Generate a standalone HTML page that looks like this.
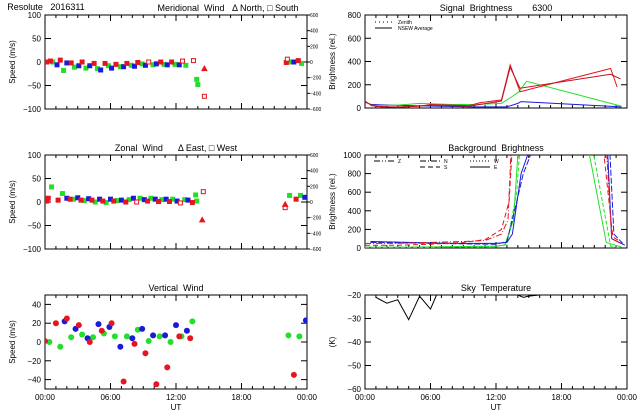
<!DOCTYPE html>
<html><head><meta charset="utf-8"><style>
body{margin:0;background:#fff}
svg{display:block;font-family:"Liberation Sans",sans-serif}
text{fill:#000;white-space:pre}
</style></head><body>
<svg id="c" width="640" height="420" viewBox="0 0 640 420"></svg>
<script>
// ---- data ----
const merRedT=[0.15,0.5,1.4,2.4,3.4,4.5,5.5,6.5,7.5,8.5,9.5,10.6,11.6,12.6,13.6,22.1,22.2,23.2];
const merRedV=[0,2,4,-2,0,-3,-3,-5,-3,-1,0,0,0,2,3,-1,6,3];
const merRedOpen=[0,0,0,0,0,0,0,0,0,0,1,0,0,1,1,0,1,0];
const merBlueT=[1.1,2.0,3.1,4.1,5.1,6.1,7.2,8.2,9.2,10.2,11.2,12.3,22.8];
const merBlueV=[-6,-2,-8,-8,-17,-13,-10,-9,-7,-4,-6,-6,0];
const merGreenT=[0.7,1.7,2.7,3.75,4.8,5.8,6.9,7.9,8.9,9.9,10.9,11.9,12.9,13.9,14.0,22.4,23.5];
const merGreenV=[0,-18,-11,-13,-14,-8,-10,-7,-4,-6,-5,-5,-7,-37,-48,0,-3];
const merExtraT=[14.6,14.6];const merExtraV=[-14,-73];
const zonRedT=[0.15,0.3,1.2,2.3,3.3,4.3,5.3,6.3,7.4,8.4,9.4,10.4,11.4,12.4,13.5,14.5,22.0,23.0];
const zonRedV=[2,8,4,6,4,4,2,2,0,0,2,1,1,-2,-1,22,-12,6];
const zonRedOpen=[0,0,0,0,0,0,0,0,0,1,0,0,0,1,0,1,1,0];
const zonBlueT=[2.0,3.0,4.0,5.0,6.0,7.0,8.1,9.1,10.1,11.1,12.1,13.1,23.8];
const zonBlueV=[8,9,7,6,6,4,8,5,6,6,2,4,10];
const zonGreenT=[0.6,1.6,2.6,3.6,4.6,5.6,6.6,7.7,8.7,9.7,10.7,11.7,12.8,13.8,13.9,22.4,23.4];
const zonGreenV=[32,18,6,3,0,-1,3,5,8,8,5,6,5,15,2,14,14];
const zonTriT=[14.4,22.0];const zonTriV=[-38,-5];
const verRedT=[0.0,1.0,2.0,3.1,4.1,5.2,6.1,7.2,8.2,9.2,10.2,11.2,12.3,13.3,22.8];
const verRedV=[1,20,25,18,0,12,20,-42,-2,-12,-45,-27,6,4,-35];
const verBlueT=[1.8,2.8,3.9,4.9,5.9,6.9,8.0,8.9,9.9,11.0,12.0,13.0,23.9];
const verBlueV=[22,14,4,19,16,-5,4,14,7,7,18,12,23];
const verGreenT=[0.4,1.4,2.4,3.4,4.4,5.4,6.4,7.5,8.5,9.5,10.5,11.5,12.5,13.5,22.3,23.3];
const verGreenV=[0,-5,5,8,5,9,6,6,13,1,6,0,6,22,7,6];
const sigRed1T=[0,0.6,1.5,3,5,6,8,9.5,10.5,12.5,13.3,14.2,22.5,23.1];
const sigRed1V=[60,20,10,10,15,30,25,20,45,70,370,140,340,180];
const sigRed2T=[0,1,3,6,9.5,12.5,13.3,14.2,22.5,23.4];
const sigRed2V=[50,15,5,25,15,60,350,170,290,250];
const sigGreenT=[0.5,3,5,8,10,12.5,13.5,14.1,14.8,22.5,23.5];
const sigGreenV=[20,25,40,30,30,40,100,140,230,40,15];
const sigBlueT=[0.5,4,7,10,13,14,14.3,23.5];
const sigBlueV=[30,20,15,10,10,40,55,10];
const bgRedT=[0,3,6,9,11,12.5,13.1,13.4,13.6,22.1,22.6,23.4];
const bgRedV=[50,50,60,70,80,150,300,1100,1100,1100,100,50];
const bgRed2T=[0,3,6,9,11,12.5,13.2,13.5,21.8,22.7,23.5];
const bgRed2V=[30,30,40,60,90,200,500,1100,1100,120,60];
const bgGreenT=[0,4,8,12,12.8,13.6,14.0,14.2,20.4,22.1,23.5];
const bgGreenV=[10,10,15,20,30,300,1000,1100,1100,60,10];
const bgGreen2T=[0,4,8,12,13,13.9,14.2,20.8,22.5,23.3];
const bgGreen2V=[0,0,10,15,40,600,1100,1100,20,0];
const bgBlueT=[0.5,4,8,12,13,13.5,14.3,15.2,22.2,22.6,23.8];
const bgBlueV=[70,60,50,50,60,150,800,1100,1100,100,30];
const bgBlue2T=[0.5,6,12,13,13.7,14.5,15.5,22.4,22.8,23.6];
const bgBlue2V=[60,50,40,70,400,800,1100,1100,150,50];
const skyT=[1,2,3,4,5,6,6.6,14,14.5,15,17];
const skyV=[-21,-23.5,-22,-30.5,-20.5,-26,-19.5,-20,-21,-20.5,-19.5];
const windTicks=[100,50,0,-50,-100];
const vertTicks=[40,20,0,-20,-40];
const sigTicks=[800,600,400,200,0];
const bgTicks=[1000,800,600,400,200,0];
const skyTicks=[-20,-30,-40,-50,-60];
const rightTicks=['600','400','200','0','-200','-400','-600'];
const timeLabels=['00:00','06:00','12:00','18:00','00:00'];

const svg=document.getElementById('c');
const NS='http://www.w3.org/2000/svg';
function mk(tag,at,parent){const e=document.createElementNS(NS,tag);for(const k in at)e.setAttribute(k,at[k]);(parent||svg).appendChild(e);return e;}
function txt(x,y,s,size,anchor,rot,parent){const t=mk('text',{x:x,y:y,'font-size':size,'text-anchor':anchor||'middle'},parent);if(rot)t.setAttribute('transform','rotate(-90 '+x+' '+y+')');t.textContent=s;return t;}
const RED='#e8141e',GREEN='#22e02a',BLUE='#1a1ad8';

function panel(name,x0,y0,x1,y1,ymax,ymin,ticks,title,ylab,opts){
  const g=mk('g',{});
  
  
  const X=h=>x0+(x1-x0)*h/24, Y=v=>y0+(y1-y0)*(ymax-v)/(ymax-ymin);
  const cid='clip-'+name;
  const cp=mk('clipPath',{id:cid},g);mk('rect',{x:x0,y:y0,width:x1-x0,height:y1-y0},cp);
  const frame=mk('rect',{x:x0,y:y0,width:x1-x0,height:y1-y0,fill:'none',stroke:'#000','stroke-width':1},g);
  
  
  for(let h=0;h<=24;h++){const L=h%6==0?6:3;mk('line',{x1:X(h),y1:y1,x2:X(h),y2:y1-L,stroke:'#000'},g);mk('line',{x1:X(h),y1:y0,x2:X(h),y2:y0+L,stroke:'#000'},g);}
  ticks.forEach(v=>{mk('line',{x1:x0,y1:Y(v),x2:x0+6,y2:Y(v),stroke:'#000'},g);mk('line',{x1:x1,y1:Y(v),x2:x1-6,y2:Y(v),stroke:'#000'},g);
    const t=txt(x0-4,Y(v)+3,String(v).replace('-','\u2212'),8,'end',false,g);
    
    });
  const tt=txt(opts&&opts.tx?opts.tx:(x0+x1)/2,y0-4,title,9,'middle',false,g);
  
  
  const yl=txt(x0-30,(y0+y1)/2,ylab,8,'middle',true,g);
  
  
  if(opts&&opts.xlabels){timeLabels.forEach((s,i)=>{const t=txt(X(i*6),y1+11,s,8,'middle',false,g);
    
    });
    const u=txt((x0+x1)/2,y1+21,'UT',8,'middle',false,g);
    
    }
  if(opts&&opts.right){const n=rightTicks.length;rightTicks.forEach((s,i)=>{const yy=y0+(y1-y0)*i/(n-1);mk('line',{x1:x1,y1:yy,x2:x1+3,y2:yy,stroke:'#000'},g);
    const t=txt(x1+3,yy+2,s.replace('-','\u2212'),5,'start',false,g);
    
    });}
  const pg=mk('g',{'clip-path':'url(#'+cid+')'},g);
  return {X,Y,g:pg};
}
function dots(p,T,V,col,shape,open,nm){T.forEach((t,i)=>{const x=p.X(t),y=p.Y(V[i]);let e;
  const o=open&&open[i];
  if(shape==='tri')e=mk('polygon',{points:(x-2.5)+','+(y+2)+' '+(x+2.5)+','+(y+2)+' '+x+','+(y-2.5),fill:o?'none':col,stroke:col},p.g);
  else if(shape==='circ')e=mk('circle',{cx:x,cy:y,r:3,fill:col},p.g);
  else e=mk('rect',{x:x-2,y:y-2,width:4,height:4,fill:o?'#fff':col,stroke:col,'stroke-width':1},p.g);
  
  });}
function line(p,T,V,col,dash,nm){const pts=T.map((t,i)=>p.X(t)+','+p.Y(V[i])).join(' ');
  const e=mk('polyline',{points:pts,fill:'none',stroke:col,'stroke-width':1,'stroke-dasharray':dash||'none'},p.g);
  
  }

const L0=45,L1=307,R0=365,R1=627;
// meridional
const pm=panel('meridional-wind-panel',L0,15,L1,109,100,-100,windTicks,'Meridional  Wind   \u0394 North, \u25A1 South','Speed (m/s)',{right:true,tx:228});
const rt=txt(46,10,'Resolute   2016311',9,'middle');


dots(pm,merGreenT,merGreenV,GREEN,'sq',null,'meridional-green-point');
dots(pm,merBlueT,merBlueV,BLUE,'sq',null,'meridional-blue-point');
dots(pm,merRedT,merRedV,RED,'sq',merRedOpen,'meridional-red-point');
dots(pm,[merExtraT[0]],[merExtraV[0]],RED,'tri',null,'meridional-red-north');
dots(pm,[merExtraT[1]],[merExtraV[1]],RED,'sq',[1],'meridional-red-south');
// zonal
const pz=panel('zonal-wind-panel',L0,155,L1,249,100,-100,windTicks,'Zonal  Wind      \u0394 East, \u25A1 West','Speed (m/s)',{right:true});
dots(pz,zonGreenT,zonGreenV,GREEN,'sq',null,'zonal-green-point');
dots(pz,zonBlueT,zonBlueV,BLUE,'sq',null,'zonal-blue-point');
dots(pz,zonRedT,zonRedV,RED,'sq',zonRedOpen,'zonal-red-point');
dots(pz,zonTriT,zonTriV,RED,'tri',null,'zonal-red-east');
// vertical
const pv=panel('vertical-wind-panel',L0,295,L1,389,50,-50,vertTicks,'Vertical  Wind','Speed (m/s)',{xlabels:true});
dots(pv,verGreenT,verGreenV,GREEN,'circ',null,'vertical-green-point');
dots(pv,verBlueT,verBlueV,BLUE,'circ',null,'vertical-blue-point');
dots(pv,verRedT,verRedV,RED,'circ',null,'vertical-red-point');
// signal
const ps=panel('signal-brightness-panel',R0,15,R1,108,800,0,sigTicks,'Signal  Brightness        6300','Brightness (rel.)');
line(ps,sigBlueT,sigBlueV,BLUE,null,'signal-blue-line');
line(ps,sigGreenT,sigGreenV,GREEN,null,'signal-green-line');
line(ps,sigRed1T,sigRed1V,RED,null,'signal-red-line');
line(ps,sigRed2T,sigRed2V,'#c01020',null,'signal-red-line-2');
mk('line',{x1:375,y1:22,x2:392,y2:22,stroke:'#000','stroke-dasharray':'1,3'});
mk('line',{x1:375,y1:28,x2:392,y2:28,stroke:'#000'});
let lt=txt(398,24,'Zenith',5,'start');
lt=txt(398,30,'NSEW Average',5,'start');
// background
const pb=panel('background-brightness-panel',R0,155,R1,248,1000,0,bgTicks,'Background  Brightness','Brightness (rel.)');
line(pb,bgGreenT,bgGreenV,GREEN,null,'background-green-line');
line(pb,bgGreen2T,bgGreen2V,GREEN,'4,2','background-green-line-2');
line(pb,bgBlueT,bgBlueV,BLUE,null,'background-blue-line');
line(pb,bgBlue2T,bgBlue2V,BLUE,'6,2','background-blue-line-2');
line(pb,bgRedT,bgRedV,RED,'6,2,1,2','background-red-line');
line(pb,bgRed2T,bgRed2V,RED,'5,3','background-red-line-2');
[['Z',374,'6,2,1,2,1,2'],['N',420,'6,2,1,2'],['W',470,'1,2']].forEach(a=>{mk('line',{x1:a[1],y1:161,x2:a[1]+20,y2:161,stroke:'#000','stroke-dasharray':a[2]});const t=txt(a[1]+24,163,a[0],5,'start');});
[['S',420,'5,3'],['E',470,'none']].forEach(a=>{mk('line',{x1:a[1],y1:167,x2:a[1]+20,y2:167,stroke:'#000','stroke-dasharray':a[2]});const t=txt(a[1]+24,169,a[0],5,'start');});
// sky
const pk=panel('sky-temperature-panel',R0,295,R1,389,-20,-60,skyTicks,'Sky  Temperature','(K)',{xlabels:true});
line(pk,skyT.slice(0,7),skyV.slice(0,7),'#000',null,'sky-temperature-line');
line(pk,skyT.slice(7),skyV.slice(7),'#000',null,'sky-temperature-line-2');
</script>
</body></html>
